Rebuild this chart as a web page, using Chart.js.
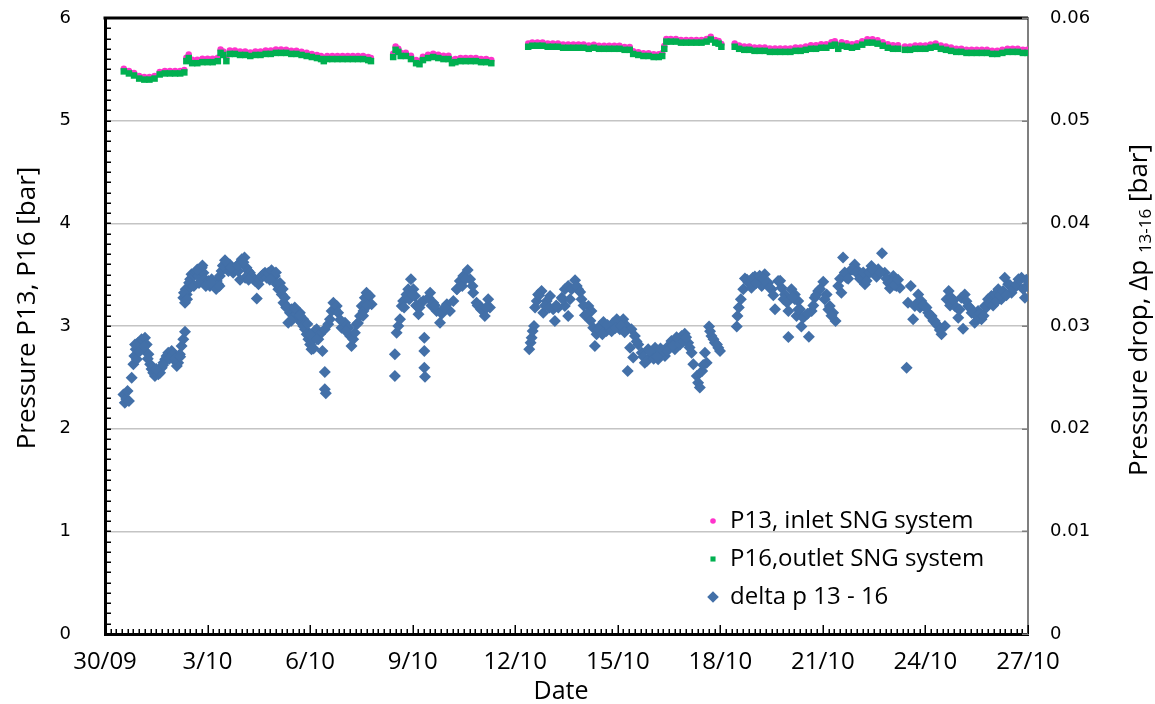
<!DOCTYPE html>
<html>
<head>
<meta charset="utf-8">
<title>SNG system pressure</title>
<script src="https://cdn.jsdelivr.net/npm/chart.js@4.4.0/dist/chart.umd.min.js"></script>
<style>
  html, body { margin: 0; padding: 0; background: #fff; }
  #wrap { width: 1155px; height: 704px; }
</style>
</head>
<body>
<div id="wrap"><canvas id="pressChart" width="1155" height="704"></canvas></div>
<script>
// x values are days counted from 30/09 00:00
const dateTicks = ['30/09', '3/10', '6/10', '9/10', '12/10', '15/10', '18/10', '21/10', '24/10', '27/10'];

// P13 inlet pressure [bar]
const p13Points = [
  [0.55,5.505],[0.70,5.485],[0.85,5.465],[1.00,5.435],[1.15,5.425],[1.30,5.425],[1.45,5.435],[1.60,5.475],
  [1.75,5.485],[1.90,5.485],[2.05,5.485],[2.20,5.485],[2.32,5.495],[2.38,5.614],[2.45,5.644],[2.55,5.594],
  [2.70,5.594],[2.85,5.604],[3.00,5.604],[3.15,5.604],[3.30,5.614],[3.38,5.694],[3.46,5.674],[3.55,5.614],
  [3.65,5.684],[3.80,5.684],[3.95,5.674],[4.10,5.674],[4.25,5.664],[4.40,5.674],[4.55,5.674],[4.70,5.684],
  [4.85,5.684],[5.00,5.694],[5.15,5.694],[5.30,5.691],[5.45,5.681],[5.60,5.681],[5.75,5.671],[5.90,5.661],
  [6.05,5.651],[6.20,5.641],[6.32,5.630],[6.40,5.610],[6.50,5.630],[6.65,5.630],[6.80,5.630],[6.95,5.630],
  [7.10,5.630],[7.25,5.630],[7.40,5.630],[7.55,5.630],[7.70,5.620],[7.78,5.610],
  [8.43,5.652],[8.50,5.722],[8.58,5.702],[8.65,5.662],[8.80,5.662],[8.95,5.632],[9.10,5.592],[9.20,5.582],
  [9.30,5.622],[9.45,5.642],[9.60,5.652],[9.75,5.642],[9.90,5.632],[10.05,5.632],[10.15,5.592],[10.25,5.602],
  [10.40,5.612],[10.55,5.612],[10.70,5.612],[10.85,5.612],[11.00,5.602],[11.15,5.602],[11.30,5.592],
  [12.38,5.752],[12.50,5.762],[12.65,5.762],[12.80,5.762],[12.95,5.752],[13.10,5.752],[13.25,5.752],[13.40,5.742],
  [13.55,5.742],[13.70,5.742],[13.85,5.742],[14.00,5.742],[14.15,5.732],[14.30,5.739],[14.45,5.729],[14.60,5.729],
  [14.75,5.729],[14.90,5.729],[15.05,5.729],[15.20,5.719],[15.35,5.719],[15.45,5.677],[15.60,5.667],[15.75,5.657],
  [15.90,5.657],[16.05,5.647],[16.20,5.647],[16.30,5.657],[16.36,5.727],[16.42,5.797],[16.55,5.797],[16.70,5.797],
  [16.85,5.787],[17.00,5.787],[17.15,5.787],[17.30,5.787],[17.45,5.787],[17.60,5.797],[17.72,5.817],[17.85,5.787],
  [17.95,5.777],[18.03,5.747],
  [18.42,5.753],[18.55,5.733],[18.70,5.723],[18.85,5.723],[19.00,5.713],[19.15,5.713],[19.30,5.713],[19.45,5.703],
  [19.60,5.703],[19.75,5.703],[19.90,5.703],[20.05,5.703],[20.20,5.713],[20.35,5.713],[20.50,5.724],[20.65,5.734],
  [20.80,5.734],[20.95,5.744],[21.10,5.744],[21.25,5.764],[21.35,5.774],[21.45,5.734],[21.55,5.764],[21.70,5.754],
  [21.85,5.744],[22.00,5.754],[22.15,5.774],[22.30,5.794],[22.45,5.794],[22.60,5.784],[22.75,5.764],[22.90,5.744],
  [23.05,5.734],[23.20,5.734],[23.40,5.722],[23.55,5.722],[23.70,5.732],[23.85,5.732],[24.00,5.732],[24.15,5.742],
  [24.30,5.752],[24.45,5.732],[24.60,5.722],[24.75,5.712],[24.90,5.702],[25.05,5.702],[25.20,5.692],[25.35,5.692],
  [25.50,5.692],[25.65,5.692],[25.80,5.692],[25.95,5.682],[26.10,5.682],[26.25,5.692],[26.40,5.702],[26.55,5.702],
  [26.70,5.702],[26.85,5.692],[26.98,5.692]
];

// P16 outlet pressure [bar]
const p16Points = [
  [0.55,5.48],[0.70,5.46],[0.85,5.44],[1.00,5.41],[1.15,5.40],[1.30,5.40],[1.45,5.41],[1.60,5.45],
  [1.75,5.46],[1.90,5.46],[2.05,5.46],[2.20,5.46],[2.32,5.47],[2.38,5.58],[2.45,5.61],[2.55,5.56],
  [2.70,5.56],[2.85,5.57],[3.00,5.57],[3.15,5.57],[3.30,5.58],[3.38,5.66],[3.46,5.64],[3.55,5.58],
  [3.65,5.65],[3.80,5.65],[3.95,5.64],[4.10,5.64],[4.25,5.63],[4.40,5.64],[4.55,5.64],[4.70,5.65],
  [4.85,5.65],[5.00,5.66],[5.15,5.66],[5.30,5.66],[5.45,5.65],[5.60,5.65],[5.75,5.64],[5.90,5.63],
  [6.05,5.62],[6.20,5.61],[6.32,5.60],[6.40,5.58],[6.50,5.60],[6.65,5.60],[6.80,5.60],[6.95,5.60],
  [7.10,5.60],[7.25,5.60],[7.40,5.60],[7.55,5.60],[7.70,5.59],[7.78,5.58],
  [8.43,5.62],[8.50,5.69],[8.58,5.67],[8.65,5.63],[8.80,5.63],[8.95,5.60],[9.10,5.56],[9.20,5.55],
  [9.30,5.59],[9.45,5.61],[9.60,5.62],[9.75,5.61],[9.90,5.60],[10.05,5.60],[10.15,5.56],[10.25,5.57],
  [10.40,5.58],[10.55,5.58],[10.70,5.58],[10.85,5.58],[11.00,5.57],[11.15,5.57],[11.30,5.56],
  [12.38,5.72],[12.50,5.73],[12.65,5.73],[12.80,5.73],[12.95,5.72],[13.10,5.72],[13.25,5.72],[13.40,5.71],
  [13.55,5.71],[13.70,5.71],[13.85,5.71],[14.00,5.71],[14.15,5.70],[14.30,5.71],[14.45,5.70],[14.60,5.70],
  [14.75,5.70],[14.90,5.70],[15.05,5.70],[15.20,5.69],[15.35,5.69],[15.45,5.65],[15.60,5.64],[15.75,5.63],
  [15.90,5.63],[16.05,5.62],[16.20,5.62],[16.30,5.63],[16.36,5.70],[16.42,5.77],[16.55,5.77],[16.70,5.77],
  [16.85,5.76],[17.00,5.76],[17.15,5.76],[17.30,5.76],[17.45,5.76],[17.60,5.77],[17.72,5.79],[17.85,5.76],
  [17.95,5.75],[18.03,5.72],
  [18.42,5.72],[18.55,5.70],[18.70,5.69],[18.85,5.69],[19.00,5.68],[19.15,5.68],[19.30,5.68],[19.45,5.67],
  [19.60,5.67],[19.75,5.67],[19.90,5.67],[20.05,5.67],[20.20,5.68],[20.35,5.68],[20.50,5.69],[20.65,5.70],
  [20.80,5.70],[20.95,5.71],[21.10,5.71],[21.25,5.73],[21.35,5.74],[21.45,5.70],[21.55,5.73],[21.70,5.72],
  [21.85,5.71],[22.00,5.72],[22.15,5.74],[22.30,5.76],[22.45,5.76],[22.60,5.75],[22.75,5.73],[22.90,5.71],
  [23.05,5.70],[23.20,5.70],[23.40,5.69],[23.55,5.69],[23.70,5.70],[23.85,5.70],[24.00,5.70],[24.15,5.71],
  [24.30,5.72],[24.45,5.70],[24.60,5.69],[24.75,5.68],[24.90,5.67],[25.05,5.67],[25.20,5.66],[25.35,5.66],
  [25.50,5.66],[25.65,5.66],[25.80,5.66],[25.95,5.65],[26.10,5.65],[26.25,5.66],[26.40,5.67],[26.55,5.67],
  [26.70,5.67],[26.85,5.66],[26.98,5.66]
];

// pressure drop P13 - P16 [bar], right axis
const deltaPoints = [
  [0.54,0.02334],[0.58,0.02253],[0.62,0.0229],[0.66,0.02367],[0.70,0.0227],[0.78,0.02497],[0.83,0.02627],[0.86,0.02708],
  [0.90,0.02773],[0.93,0.02675],[0.97,0.02838],[1.02,0.02805],[1.07,0.0287],[1.12,0.02773],[1.17,0.02886],[1.22,0.0282],
  [1.27,0.02724],[1.32,0.02627],[1.36,0.0258],[1.41,0.02545],[1.46,0.02513],[1.51,0.02562],[1.56,0.0253],[1.61,0.02545],
  [1.66,0.02594],[1.71,0.02643],[1.76,0.02675],[1.80,0.02708],[1.85,0.0274],[1.90,0.02692],[1.95,0.02756],[2.00,0.02724],
  [2.05,0.0266],[2.10,0.0261],[2.14,0.02643],[2.19,0.02724],[2.24,0.02805],[2.29,0.0287],[2.34,0.02945],[2.29,0.03276],
  [2.34,0.03227],[2.36,0.03357],[2.39,0.03308],[2.44,0.03357],[2.49,0.03455],[2.53,0.03503],[2.58,0.03487],[2.63,0.03519],
  [2.68,0.03536],[2.73,0.03487],[2.78,0.03558],[2.83,0.03568],[2.88,0.03519],[2.92,0.03455],[2.97,0.03422],[3.02,0.03438],
  [3.07,0.0339],[3.12,0.03455],[3.17,0.03406],[3.22,0.03422],[3.27,0.03438],[3.31,0.03406],[3.36,0.03487],[3.41,0.03536],
  [3.46,0.03584],[3.51,0.0364],[3.56,0.03584],[3.61,0.03536],[3.65,0.036],[3.70,0.03568],[3.75,0.03519],[3.80,0.03552],
  [3.85,0.03584],[3.90,0.03536],[3.95,0.03617],[4.00,0.03649],[4.08,0.03666],[4.14,0.03568],[4.19,0.03536],[4.24,0.03519],
  [4.29,0.03487],[4.34,0.03455],[4.39,0.03438],[4.44,0.03269],[4.49,0.03406],[4.53,0.03455],[4.58,0.03487],[4.63,0.03503],
  [4.68,0.03519],[4.73,0.03471],[4.78,0.03519],[4.87,0.03542],[4.92,0.03471],[4.97,0.03487],[5.02,0.03406],[5.07,0.03357],
  [5.12,0.03373],[5.17,0.03308],[5.22,0.03227],[5.26,0.03276],[5.31,0.03195],[5.36,0.03032],[5.41,0.0313],[5.46,0.03162],
  [5.51,0.03097],[5.56,0.03162],[5.60,0.03114],[5.65,0.03065],[5.70,0.0313],[5.75,0.03032],[5.80,0.03065],[5.85,0.02968],
  [5.90,0.02919],[5.95,0.0287],[6.00,0.0282],[6.04,0.02773],[6.09,0.0287],[6.14,0.02952],[6.19,0.02968],[6.24,0.0287],
  [6.29,0.02919],[6.36,0.02756],[6.43,0.02552],[6.43,0.02383],[6.46,0.02344],[6.43,0.02968],[6.53,0.03016],[6.58,0.03065],
  [6.63,0.03146],[6.68,0.03227],[6.73,0.03162],[6.78,0.03195],[6.82,0.0313],[6.92,0.02984],[7.02,0.03032],[7.12,0.02984],
  [7.17,0.02903],[7.21,0.02805],[7.26,0.0287],[7.31,0.02935],[7.36,0.03016],[7.46,0.03097],[7.51,0.03195],[7.56,0.03146],
  [7.60,0.03276],[7.65,0.03325],[7.70,0.03227],[7.75,0.03292],[7.80,0.03211],
  [8.48,0.02724],[8.48,0.02513],[8.53,0.02935],[8.58,0.03],[8.63,0.03065],[8.68,0.03195],[8.72,0.03244],[8.82,0.03308],
  [8.87,0.03357],[8.95,0.03455],[9.02,0.03357],[9.07,0.03292],[9.12,0.03195],[9.17,0.03114],[9.24,0.03227],[9.31,0.03244],
  [9.34,0.02886],[9.34,0.02756],[9.34,0.02594],[9.36,0.02506],[9.46,0.03276],[9.51,0.03325],[9.60,0.03227],[9.70,0.03146],
  [9.80,0.03032],[9.90,0.03162],[10.00,0.03211],[10.09,0.03146],[10.19,0.03244],[10.29,0.03357],[10.38,0.03438],[10.48,0.03487],
  [10.61,0.03545],[10.68,0.03455],[10.77,0.03325],[10.87,0.03227],[10.97,0.03195],[11.07,0.03146],[11.11,0.03097],[11.21,0.0326],
  [11.26,0.03179],
  [12.41,0.02773],[12.45,0.02838],[12.48,0.02886],[12.51,0.02952],[12.55,0.03],[12.58,0.03179],[12.63,0.03244],[12.67,0.03308],
  [12.77,0.03341],[12.82,0.0313],[12.92,0.03244],[13.02,0.03292],[13.11,0.03162],[13.16,0.03049],[13.26,0.03179],[13.36,0.03276],
  [13.45,0.03357],[13.55,0.0339],[13.45,0.03195],[13.55,0.03097],[13.65,0.03357],[13.75,0.03445],[13.84,0.03357],[13.94,0.0326],
  [14.04,0.03104],[14.14,0.03195],[14.23,0.03146],[14.28,0.02984],[14.33,0.02805],[14.38,0.02919],[14.48,0.03],[14.58,0.03039],
  [14.67,0.02952],[14.77,0.02984],[14.87,0.03032],[14.97,0.03065],[15.06,0.02968],[15.16,0.03065],[15.26,0.03],[15.29,0.02562],
  [15.36,0.02789],[15.40,0.02968],[15.45,0.02692],[15.50,0.02903],[15.60,0.0282],[15.70,0.0274],[15.79,0.02643],[15.89,0.02773],
  [15.99,0.02708],[16.09,0.02789],[16.18,0.02675],[16.28,0.0274],[16.38,0.02708],[16.48,0.02805],[16.57,0.02854],[16.67,0.02773],
  [16.77,0.0287],[16.87,0.02903],[16.96,0.02925],[17.06,0.02838],[17.16,0.0274],[17.21,0.02627],[17.31,0.02513],[17.35,0.02448],
  [17.40,0.024],[17.47,0.02562],[17.55,0.0274],[17.60,0.02643],[17.67,0.02994],[17.74,0.02903],[17.84,0.02838],[17.94,0.02789],
  [17.99,0.02756],
  [18.48,0.02994],[18.50,0.03097],[18.54,0.03179],[18.60,0.0326],[18.67,0.03357],[18.72,0.03462],[18.82,0.03422],[18.91,0.03373],
  [19.01,0.03481],[19.11,0.03438],[19.21,0.0339],[19.30,0.03503],[19.40,0.03422],[19.50,0.03357],[19.60,0.03162],[19.69,0.03438],
  [19.79,0.03373],[19.89,0.03308],[19.99,0.03146],[19.99,0.02893],[20.08,0.03357],[20.18,0.03308],[20.28,0.03244],[20.18,0.0326],
  [20.23,0.03097],[20.33,0.03162],[20.37,0.02994],[20.47,0.03097],[20.59,0.02896],[20.67,0.03146],[20.76,0.03276],[20.86,0.03341],
  [21.01,0.03432],[21.11,0.03308],[21.20,0.03195],[21.30,0.0313],[21.37,0.03049],[21.45,0.0339],[21.54,0.03325],[21.59,0.03666],
  [21.69,0.03471],[21.79,0.03536],[21.93,0.036],[22.03,0.03536],[22.13,0.03487],[22.23,0.03406],[22.32,0.03519],[22.42,0.03584],
  [22.52,0.03503],[22.62,0.03552],[22.73,0.03708],[22.81,0.03519],[22.91,0.03422],[22.96,0.03367],[23.06,0.03487],[23.15,0.0339],
  [23.25,0.03373],[23.45,0.02594],[23.49,0.03227],[23.57,0.0339],[23.64,0.03065],[23.69,0.03195],[23.79,0.03308],[23.88,0.03244],
  [23.98,0.03195],[24.08,0.0313],[24.18,0.03097],[24.27,0.03049],[24.37,0.03],[24.47,0.02919],[24.57,0.03],[24.62,0.0326],
  [24.68,0.03341],[24.76,0.03276],[24.86,0.03195],[24.96,0.03081],[25.05,0.03276],[25.10,0.02974],[25.15,0.03308],[25.25,0.03195],
  [25.35,0.0313],[25.44,0.03032],[25.54,0.03146],[25.64,0.03065],[25.74,0.03195],[25.83,0.0326],[25.93,0.03292],[26.03,0.03308],
  [26.13,0.03357],[26.22,0.0326],[26.32,0.03471],[26.42,0.03406],[26.52,0.03325],[26.62,0.0339],[26.72,0.03455],[26.81,0.03471],
  [26.91,0.03276],[26.98,0.0339],
  // readings from the upper and lower edges of the dense stretches
  [0.88,0.0282],[1.00,0.0275],[1.15,0.0280],[1.25,0.0268],[1.50,0.0258],[1.70,0.0262],[1.88,0.0268],[2.05,0.0268],
  [2.20,0.0270],[2.31,0.03325],[2.40,0.0326],[2.46,0.03422],[2.60,0.0339],[2.75,0.0342],[2.95,0.0339],[3.10,0.0342],
  [3.25,0.0336],[3.35,0.0339],[2.70,0.0355],[2.85,0.0359],[3.45,0.0359],[3.55,0.0362],[3.68,0.0357],[3.88,0.0359],
  [4.05,0.0362],[3.95,0.0345],[4.10,0.0347],[4.20,0.0345],[4.82,0.0345],[5.00,0.0352],[5.12,0.0342],[5.20,0.0336],
  [5.30,0.0318],[5.45,0.0305],[5.55,0.0318],[5.70,0.0310],[5.80,0.0300],[5.92,0.0302],[6.00,0.0292],[6.10,0.0278],
  [6.20,0.0287],[6.88,0.0306],[7.05,0.0295],[7.40,0.0303],[7.55,0.0310],[7.68,0.0320],
  [8.75,0.0318],[8.90,0.0326],[9.00,0.0330],[9.10,0.0320],[9.20,0.0318],[9.55,0.0320],[9.65,0.0320],[9.85,0.0312],
  [9.95,0.0318],[10.30,0.0336],[10.45,0.0339],[10.55,0.0346],[10.75,0.0339],[10.90,0.0320],[11.00,0.0316],[11.15,0.0318],
  [12.70,0.0330],[12.87,0.0320],[13.00,0.0318],[13.20,0.0320],[13.40,0.0326],[13.60,0.0326],[13.80,0.0339],[13.90,0.0333],
  [14.00,0.0320],[14.10,0.0312],[14.20,0.0305],[14.43,0.0297],[14.55,0.0292],[14.70,0.0301],[14.82,0.0295],[14.93,0.0298],
  [15.10,0.0300],[15.20,0.0294],[15.55,0.0285],[15.75,0.0270],[15.85,0.0266],[15.95,0.0275],[16.05,0.0268],[16.15,0.0270],
  [16.25,0.0278],[16.33,0.0276],[16.45,0.0276],[16.62,0.0281],[16.72,0.0289],[16.82,0.0282],[16.92,0.0285],[17.00,0.0289],
  [17.10,0.0279],[17.50,0.0262],[17.70,0.0295],[17.80,0.0287],[17.90,0.0282],
  [18.78,0.0345],[18.87,0.0342],[18.95,0.0347],[19.05,0.0342],[19.15,0.0349],[19.25,0.0346],[19.35,0.0342],[19.45,0.0337],
  [19.55,0.0330],[19.75,0.0344],[19.85,0.0326],[19.95,0.0323],[20.12,0.0328],[20.28,0.0316],[20.42,0.0308],[20.55,0.0312],
  [20.72,0.0320],[20.80,0.0330],[20.92,0.0336],[21.05,0.0326],[21.16,0.0316],[21.25,0.0310],[21.50,0.0346],[21.64,0.0352],
  [21.74,0.0346],[21.86,0.0355],[21.98,0.0352],[22.08,0.0346],[22.18,0.0352],[22.28,0.0344],[22.37,0.0352],[22.47,0.0355],
  [22.57,0.0348],[22.68,0.0352],[22.86,0.0346],[23.01,0.0343],[23.10,0.0340],[23.20,0.0345],
  [23.74,0.0322],[23.84,0.0318],[23.93,0.0320],[24.03,0.0318],[24.13,0.0310],[24.23,0.0305],[24.32,0.0302],[24.42,0.0296],
  [24.72,0.0320],[24.82,0.0325],[24.91,0.0318],[25.00,0.0316],[25.20,0.0324],[25.30,0.0318],[25.40,0.0313],[25.50,0.0310],
  [25.60,0.0312],[25.70,0.0310],[25.78,0.0318],[25.88,0.0322],[25.98,0.0320],[26.08,0.0324],[26.18,0.0330],[26.27,0.0334],
  [26.37,0.0330],[26.47,0.0340],[26.57,0.0336],[26.67,0.0340],[26.76,0.0345],[26.86,0.0336],[26.95,0.0345]
];

const textFont = '"Open Sans", "Liberation Sans", sans-serif';
const numFont = '"DejaVu Sans", Verdana, sans-serif';
const clear = 'rgba(0,0,0,0)';

// inward minor ticks, top frame line and right-axis tick marks
const frameTicks = {
  id: 'frameTicks',
  afterDraw(chart) {
    const { ctx, chartArea: a, scales } = chart;
    ctx.save();
    ctx.strokeStyle = '#000';
    ctx.lineWidth = 1.5;
    ctx.beginPath();
    for (let i = 0; i <= 60; i++) {
      const py = Math.round(scales.y.getPixelForValue(i / 10)) + 0.25;
      ctx.moveTo(a.left, py);
      ctx.lineTo(a.left + 6, py);
    }
    for (let i = 0; i <= 27 * 6; i++) {
      const px = Math.round(scales.x.getPixelForValue(i / 6)) + 0.25;
      const len = i % 18 === 0 ? 9 : 5;
      ctx.moveTo(px, a.bottom);
      ctx.lineTo(px, a.bottom - len);
    }
    ctx.stroke();

    ctx.lineWidth = 3;
    ctx.beginPath();
    ctx.moveTo(a.left - 1.5, a.top);
    ctx.lineTo(a.right, a.top);
    ctx.stroke();

    ctx.strokeStyle = '#7f7f7f';
    ctx.lineWidth = 1.5;
    ctx.beginPath();
    for (let i = 0; i <= 6; i++) {
      const py = Math.round(scales.y1.getPixelForValue(i / 100)) + 0.25;
      ctx.moveTo(a.right, py);
      ctx.lineTo(a.right - 6, py);
    }
    ctx.stroke();
    ctx.restore();
  }
};

// axis titles, the right one carries a subscript
const axisTitles = {
  id: 'axisTitles',
  afterDraw(chart) {
    const ctx = chart.ctx;
    ctx.save();
    ctx.fillStyle = '#000';
    ctx.textBaseline = 'middle';

    ctx.font = '25px ' + textFont;
    ctx.textAlign = 'center';
    ctx.fillText('Date', 561, 692);

    ctx.save();
    ctx.translate(28, 308);
    ctx.rotate(-Math.PI / 2);
    ctx.font = '26px ' + textFont;
    ctx.fillText('Pressure P13, P16 [bar]', 0, 0);
    ctx.restore();

    ctx.save();
    ctx.translate(1140, 310);
    ctx.rotate(-Math.PI / 2);
    ctx.textAlign = 'left';
    const head = 'Pressure drop, \u0394p ';
    const sub = '13-16';
    const tail = ' [bar]';
    ctx.font = '26px ' + textFont;
    const w1 = ctx.measureText(head).width;
    const w3 = ctx.measureText(tail).width;
    ctx.font = '17px ' + textFont;
    const w2 = ctx.measureText(sub).width;
    const x = -(w1 + w2 + w3) / 2;
    ctx.font = '26px ' + textFont;
    ctx.fillText(head, x, 0);
    ctx.font = '17px ' + textFont;
    ctx.fillText(sub, x + w1, 6);
    ctx.font = '26px ' + textFont;
    ctx.fillText(tail, x + w1 + w2, 0);
    ctx.restore();

    ctx.restore();
  }
};

// legend drawn inside the plot, lower right
const plotLegend = {
  id: 'plotLegend',
  afterDraw(chart) {
    const ctx = chart.ctx;
    ctx.save();
    ctx.font = '24px ' + textFont;
    ctx.textBaseline = 'middle';
    ctx.fillStyle = '#000';
    chart.data.datasets.forEach((ds, i) => {
      const y = 521 + i * 38;
      ctx.save();
      ctx.fillStyle = ds.backgroundColor;
      ctx.strokeStyle = ds.borderColor;
      Chart.helpers.drawPoint(ctx, {
        pointStyle: ds.pointStyle, rotation: 0, radius: ds.legendRadius, borderWidth: 0
      }, 713, y);
      ctx.restore();
      ctx.fillText(ds.label, 730, y);
    });
    ctx.restore();
  }
};

new Chart(document.getElementById('pressChart'), {
  type: 'scatter',
  data: {
    datasets: [
      {
        label: 'P13, inlet SNG system',
        data: p13Points,
        yAxisID: 'y',
        pointStyle: 'circle',
        pointRadius: 3.2,
        borderWidth: 0,
        backgroundColor: '#ff33cc',
        borderColor: '#ff33cc',
        legendRadius: 2.8,
        order: 2
      },
      {
        label: 'P16,outlet SNG system',
        data: p16Points,
        yAxisID: 'y',
        pointStyle: 'rect',
        pointRadius: 4.6,
        borderWidth: 0,
        backgroundColor: '#00b050',
        borderColor: '#00b050',
        legendRadius: 3.6,
        order: 1
      },
      {
        label: 'delta p 13 - 16',
        data: deltaPoints,
        yAxisID: 'y1',
        pointStyle: 'rectRot',
        pointRadius: 6,
        borderWidth: 0,
        backgroundColor: '#4370a8',
        borderColor: '#4370a8',
        legendRadius: 5.8,
        order: 0
      }
    ]
  },
  options: {
    responsive: false,
    animation: false,
    events: [],
    layout: { padding: { top: 18, left: 0, right: 0, bottom: 0 } },
    plugins: {
      legend: { display: false },
      tooltip: { enabled: false }
    },
    scales: {
      x: {
        type: 'linear',
        position: 'bottom',
        min: 0,
        max: 27,
        afterFit: s => { s.height = 70; },
        grid: { display: false, drawTicks: false },
        border: { display: true, width: 3, color: '#000' },
        ticks: {
          stepSize: 3,
          autoSkip: false,
          maxRotation: 0,
          padding: 14,
          color: '#000',
          font: { family: textFont, size: 24 },
          callback: v => dateTicks[Math.round(v / 3)]
        }
      },
      y: {
        position: 'left',
        min: 0,
        max: 6,
        afterFit: s => { s.width = 105; },
        grid: { color: '#c4c4c4', lineWidth: 1.5, drawTicks: true, tickLength: 30, tickColor: clear },
        border: { display: true, width: 3, color: '#000' },
        ticks: {
          stepSize: 1,
          padding: 4,
          color: '#000',
          font: { family: numFont, size: 18 }
        }
      },
      y1: {
        position: 'right',
        min: 0,
        max: 0.06,
        afterFit: s => { s.width = 127; },
        grid: { drawOnChartArea: false, drawTicks: true, tickLength: 18, tickColor: clear },
        border: { display: true, width: 2, color: '#7f7f7f' },
        ticks: {
          stepSize: 0.01,
          padding: 4,
          color: '#000',
          font: { family: numFont, size: 18 },
          callback: v => String(Number(v.toFixed(2)))
        }
      }
    }
  },
  plugins: [frameTicks, axisTitles, plotLegend]
});
</script>
</body>
</html>
